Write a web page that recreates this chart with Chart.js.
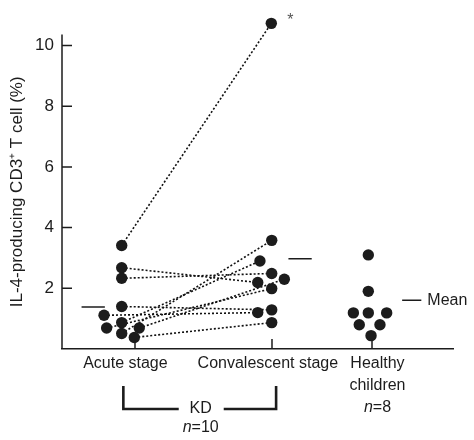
<!DOCTYPE html>
<html>
<head>
<meta charset="utf-8">
<script src="https://cdn.jsdelivr.net/npm/chart.js@4.4.1/dist/chart.umd.min.js"></script>
<style>
  body { margin: 0; background: #fff; }
  canvas { display: block; }
</style>
</head>
<body>
<canvas id="il4Chart" width="474" height="440"></canvas>
<script>
// group ticks on the x axis (acute, convalescent, healthy)
const groupLabels = ["Acute stage", "Convalescent stage", ["Healthy", "children"]];
const groupPos = [1, 2, 2.73];
const labelPos = [0.93, 1.97, 2.77];
const yTicks = [2, 4, 6, 8, 10];
const yAxisTop = 10.36;
const yTitle = "IL-4-producing CD3\u207A T cell (%)";

// KD patients, paired by index (acute -> convalescent)
const acuteValues = [3.41, 2.68, 2.33, 1.40, 1.11, 0.87, 0.69, 0.69, 0.51, 0.38];
const acuteX = [0.903, 0.903, 0.903, 0.903, 0.774, 0.903, 0.793, 1.031, 0.903, 0.995];
const convValues = [10.73, 2.19, 2.49, 1.29, 1.20, 2.90, 1.99, 2.30, 3.58, 0.87];
const convX = [1.995, 1.896, 1.998, 1.998, 1.896, 1.912, 1.998, 2.09, 1.998, 1.998];

// healthy children
const healthyValues = [3.10, 1.90, 1.19, 1.19, 1.19, 0.80, 0.80, 0.44];
const healthyX = [2.703, 2.703, 2.594, 2.703, 2.837, 2.637, 2.788, 2.723];

// group means (short horizontal bars)
const meanValues = [1.38, 2.97, 1.61];
const meanFrom = [0.61, 2.12, 2.95];
const meanTo = [0.78, 2.29, 3.09];

const ink = "#1c1c1c";
const font = "'Liberation Sans', Arial, sans-serif";

const toPoints = (xs, ys) => ys.map((v, i) => ({ x: xs[i], y: v }));

const datasets = [
    { data: toPoints(acuteX, acuteValues) },
    { data: toPoints(convX, convValues) },
    { data: toPoints(healthyX, healthyValues) }
].map(d => ({
    ...d,
    pointRadius: 5.7,
    pointBackgroundColor: ink,
    pointBorderWidth: 0,
    showLine: false,
    clip: false
}));

acuteValues.forEach((v, i) => {
    datasets.push({
        data: [{ x: acuteX[i], y: v }, { x: convX[i], y: convValues[i] }],
        showLine: true,
        borderColor: "#111",
        borderWidth: 1.6,
        borderDash: [2, 2],
        pointRadius: 0,
        clip: false
    });
});

meanValues.forEach((m, i) => {
    datasets.push({
        data: [{ x: meanFrom[i], y: m }, { x: meanTo[i], y: m }],
        showLine: true,
        borderColor: ink,
        borderWidth: 1.5,
        pointRadius: 0
    });
});

const extras = {
    id: "extras",
    afterDraw(chart) {
        const { ctx, chartArea: area, scales: { x, y } } = chart;
        ctx.save();
        ctx.strokeStyle = ink;
        ctx.fillStyle = ink;
        ctx.lineWidth = 1.5;

        // y axis line (stops short of the outlier) and inward tick marks
        const y0 = y.getPixelForValue(0);
        const yEnd = y.getPixelForValue(yAxisTop);
        ctx.beginPath();
        ctx.moveTo(area.left, y0);
        ctx.lineTo(area.left, yEnd);
        yTicks.forEach(v => {
            const py = y.getPixelForValue(v);
            ctx.moveTo(area.left, py);
            ctx.lineTo(area.left + 10, py);
        });
        groupPos.forEach(v => {
            const px = x.getPixelForValue(v);
            ctx.moveTo(px, area.bottom);
            ctx.lineTo(px, area.bottom - 10);
        });
        ctx.stroke();

        // y axis title, centred on the drawn axis
        ctx.save();
        ctx.translate(17, (y0 + yEnd) / 2);
        ctx.rotate(-Math.PI / 2);
        ctx.font = "17px " + font;
        ctx.textAlign = "center";
        ctx.textBaseline = "middle";
        ctx.fillText(yTitle, 0, 0);
        ctx.restore();

        // asterisk next to the outlier
        const top = chart.getDatasetMeta(1).data[0];
        ctx.fillStyle = "#555";
        ctx.font = "16px " + font;
        ctx.textAlign = "center";
        ctx.textBaseline = "middle";
        ctx.fillText("*", top.x + 19, top.y - 3);

        // "Mean" label
        ctx.fillStyle = ink;
        ctx.textAlign = "left";
        ctx.fillText("Mean", x.getPixelForValue(meanTo[2]) + 6, y.getPixelForValue(meanValues[2]));

        // KD bracket
        const xa = x.getPixelForValue(0.915);
        const xb = x.getPixelForValue(2.03);
        const mid = (xa + xb) / 2;
        const yTop = area.bottom + 37;
        const yBot = area.bottom + 60;
        ctx.lineWidth = 2.6;
        ctx.beginPath();
        ctx.moveTo(xa, yTop);
        ctx.lineTo(xa, yBot);
        ctx.lineTo(mid - 21, yBot);
        ctx.moveTo(mid + 24, yBot);
        ctx.lineTo(xb, yBot);
        ctx.lineTo(xb, yTop);
        ctx.stroke();
        ctx.textAlign = "center";
        ctx.fillText("KD", mid + 1, yBot);

        // n = ... labels with italic n
        const nLabel = (txt, cx, cy) => {
            ctx.font = "italic 16px " + font;
            const w1 = ctx.measureText("n").width;
            ctx.font = "16px " + font;
            const w2 = ctx.measureText(txt).width;
            const start = cx - (w1 + w2) / 2;
            ctx.textAlign = "left";
            ctx.font = "italic 16px " + font;
            ctx.fillText("n", start, cy);
            ctx.font = "16px " + font;
            ctx.fillText(txt, start + w1, cy);
        };
        nLabel("=10", mid + 1, area.bottom + 79);
        nLabel("=8", x.getPixelForValue(labelPos[2]), area.bottom + 59);

        ctx.restore();
    }
};

new Chart(document.getElementById("il4Chart").getContext("2d"), {
    type: "scatter",
    data: { datasets: datasets },
    options: {
        responsive: false,
        animation: false,
        events: [],
        layout: { padding: { top: 16.5, right: 21, left: 0, bottom: 0 } },
        plugins: { legend: { display: false }, tooltip: { enabled: false } },
        scales: {
            x: {
                type: "linear",
                min: 0.4672,
                max: 3.3212,
                grid: { display: false, drawTicks: false },
                border: { display: true, color: ink, width: 1.5 },
                afterBuildTicks: scale => { scale.ticks = labelPos.map(v => ({ value: v })); },
                afterFit: scale => { scale.height = 91; },
                ticks: {
                    autoSkip: false,
                    maxRotation: 0,
                    minRotation: 0,
                    padding: 3,
                    color: ink,
                    font: { family: font, size: 16, lineHeight: 1.4 },
                    callback: (value, index) => groupLabels[index]
                }
            },
            y: {
                min: 0,
                max: 10.9,
                grid: { display: false, drawTicks: false },
                border: { display: false },
                afterBuildTicks: scale => { scale.ticks = yTicks.map(v => ({ value: v })); },
                afterFit: scale => { scale.width = 62; },
                ticks: {
                    padding: 8,
                    color: ink,
                    font: { family: font, size: 17 }
                }
            }
        }
    },
    plugins: [extras]
});
</script>
</body>
</html>
